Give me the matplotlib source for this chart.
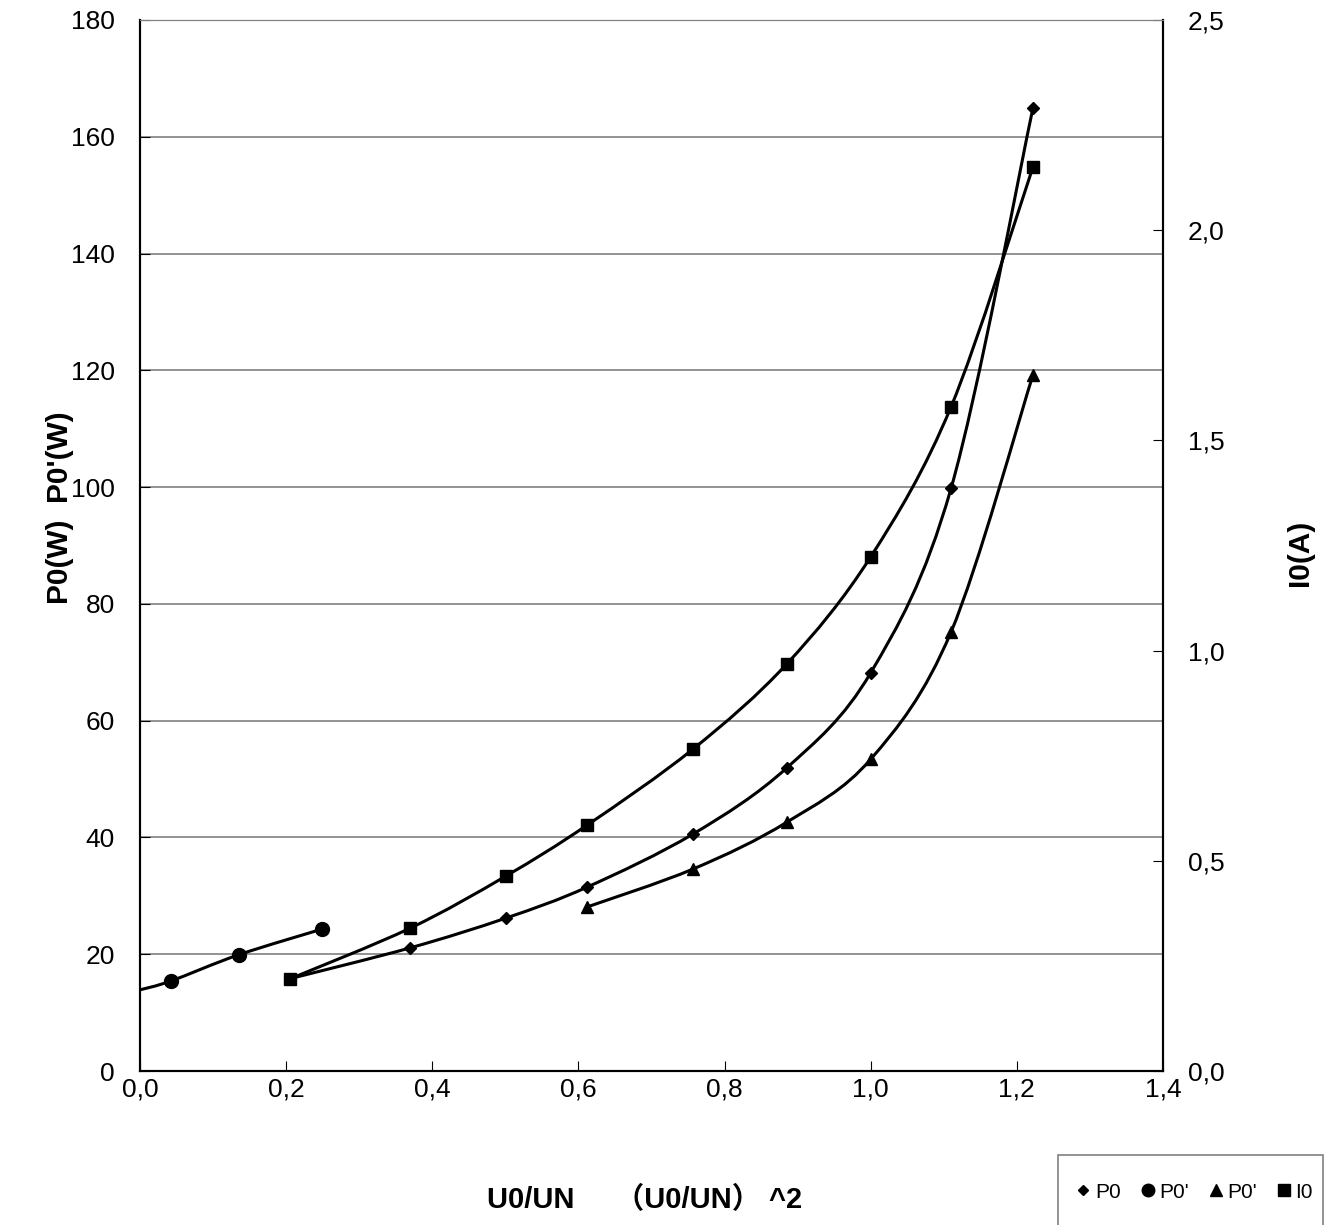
import matplotlib as mpl
mpl.use('Agg')
import matplotlib.pyplot as plt
from matplotlib.path import Path
from matplotlib.patches import PathPatch, Rectangle
from matplotlib.ticker import FuncFormatter
from matplotlib.lines import Line2D
import numpy as np

plt.rcParams['font.family'] = ['Liberation Sans', 'Noto Sans CJK SC', 'DejaVu Sans']
plt.rcParams['font.size'] = 19

# data
x_p0 = [0.205, 0.370, 0.501, 0.612, 0.757, 0.885, 1.000, 1.110, 1.222]
p0 = [15.8, 21.1, 26.2, 31.5, 40.6, 51.9, 68.2, 99.8, 164.9]

x_p0c = [0.0, 0.042, 0.135, 0.249]          # first point: line start, no marker
p0c = [13.9, 15.4, 19.9, 24.3]

x_p0t = [0.612, 0.757, 0.885, 1.000, 1.110, 1.222]
p0t = [28.1, 34.6, 42.6, 53.4, 75.2, 119.2]

x_i0 = [0.205, 0.370, 0.501, 0.612, 0.757, 0.885, 1.000, 1.110, 1.222]
i0 = [0.219, 0.340, 0.464, 0.585, 0.766, 0.968, 1.223, 1.580, 2.150]


def smooth(ax, xs, ys, lw=2.2):
    # excel-like smoothed line: cubic bezier through the points
    p = np.column_stack([xs, ys]).astype(float)
    n = len(p)
    verts = [p[0]]
    codes = [Path.MOVETO]
    for i in range(n - 1):
        p0_ = p[i - 1] if i > 0 else p[i]
        p3_ = p[i + 2] if i + 2 < n else p[i + 1]
        c1 = p[i] + (p[i + 1] - p0_) / 6.0
        c2 = p[i + 1] - (p3_ - p[i]) / 6.0
        verts += [c1, c2, p[i + 1]]
        codes += [Path.CURVE4] * 3
    ax.add_patch(PathPatch(Path(verts, codes), fill=False, lw=lw,
                           edgecolor='black', zorder=3))


fig = plt.figure(figsize=(13.24, 12.25), dpi=100)
ax = fig.add_axes([0.1057, 0.1257, 0.7727, 0.858])
ax2 = ax.twinx()

smooth(ax, x_p0, p0)
smooth(ax, x_p0c, p0c)
smooth(ax, x_p0t, p0t)
smooth(ax2, x_i0, i0)

ax.plot(x_p0, p0, ls='none', marker='D', ms=6.5, color='black', zorder=4)
ax.plot(x_p0c[1:], p0c[1:], ls='none', marker='o', ms=10, color='black', zorder=4)
ax.plot(x_p0t, p0t, ls='none', marker='^', ms=9, color='black', zorder=4)
ax2.plot(x_i0, i0, ls='none', marker='s', ms=9, color='black', zorder=4)

ax.set_xlim(0, 1.4)
ax.set_ylim(0, 180)
ax2.set_ylim(0, 2.5)
ax.set_xticks(np.arange(0, 1.41, 0.2))
ax.set_yticks(np.arange(0, 181, 20))
ax2.set_yticks(np.arange(0, 2.51, 0.5))
comma = FuncFormatter(lambda v, pos: f'{v:.1f}'.replace('.', ','))
ax.xaxis.set_major_formatter(comma)
ax2.yaxis.set_major_formatter(comma)

ax.yaxis.grid(True, color='#808080', lw=1.2)
ax.set_axisbelow(True)
ax.tick_params(axis='x', direction='in', length=7, pad=5, labelsize=19)
ax.tick_params(axis='y', direction='in', length=7, pad=18, labelsize=19)
ax2.tick_params(axis='y', direction='in', length=7, pad=18, labelsize=19)

for a in (ax, ax2):
    a.spines['top'].set_color('#808080')
    a.spines['left'].set_linewidth(1.5)
    a.spines['right'].set_linewidth(1.5)
    a.spines['bottom'].set_linewidth(1.5)

fig.text(60 / 1324, 1 - 508 / 1225, "P0(W)  P0'(W)", rotation=90, fontsize=21.5,
         fontweight='bold', ha='center', va='center')
fig.text(1300 / 1324, 1 - 553 / 1225, 'I0(A)', rotation=90, fontsize=21.5,
         fontweight='bold', ha='center', va='center')
fig.text(645 / 1324, 1 - 1200 / 1225, 'U0/UN     \uff08U0/UN\uff09 ^2', fontsize=21,
         fontweight='bold', ha='center', va='center')

# legend box, runs off the bottom of the picture
fig.patches.append(Rectangle((1058 / 1324, -0.02), 265 / 1324, 0.02 + 70 / 1225,
                             transform=fig.transFigure, fill=False,
                             edgecolor='#808080', lw=1.2))
handles = [Line2D([], [], ls='none', marker='D', ms=5.5, color='black'),
           Line2D([], [], ls='none', marker='o', ms=9, color='black'),
           Line2D([], [], ls='none', marker='^', ms=8, color='black'),
           Line2D([], [], ls='none', marker='s', ms=8, color='black')]
fig.legend(handles, ['P0', "P0'", "P0'", 'I0'], loc='center',
           bbox_to_anchor=(1195 / 1324, 1 - 1192 / 1225), ncol=4, frameon=False,
           fontsize=15, handlelength=0.6, handletextpad=0.25, columnspacing=1.0)

fig.savefig('out.png', dpi=100)
